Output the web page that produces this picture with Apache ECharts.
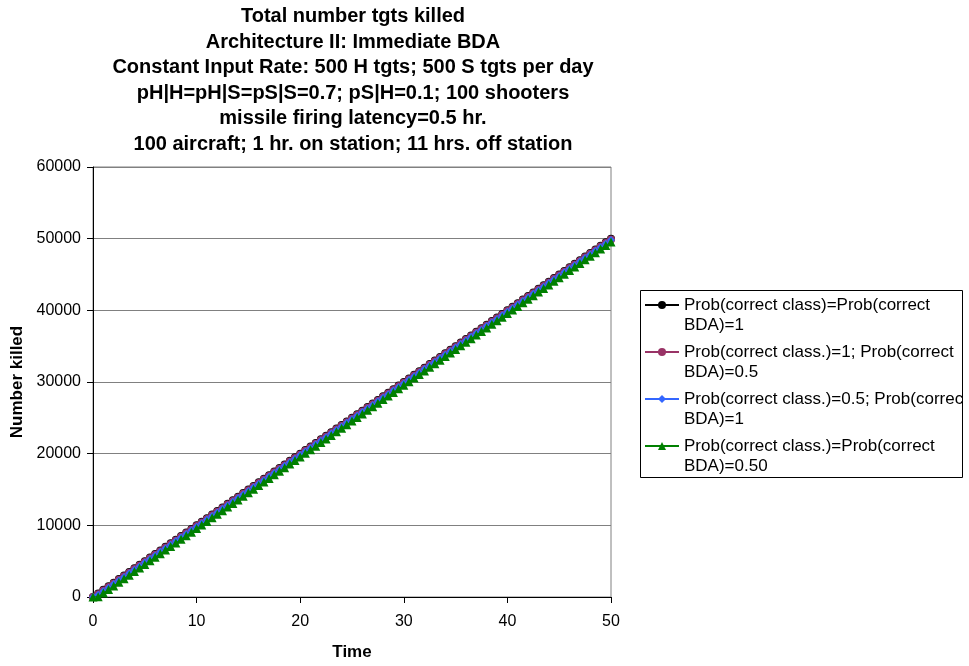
<!DOCTYPE html>
<html>
<head>
<meta charset="utf-8">
<script src="https://cdn.jsdelivr.net/npm/echarts@6/dist/echarts.min.js"></script>
<style>
html,body{margin:0;padding:0;background:#fff;}
#chart{width:969px;height:666px;}
</style>
</head>
<body>
<div id="chart"></div>
<script>
var titleLines = [
  'Total number tgts killed',
  'Architecture II: Immediate BDA',
  'Constant Input Rate: 500 H tgts; 500 S tgts per day',
  'pH|H=pH|S=pS|S=0.7; pS|H=0.1; 100 shooters',
  'missile firing latency=0.5 hr.',
  '100 aircraft; 1 hr. on station; 11 hrs. off station'
];
var xAxisTitle = 'Time';
var yAxisTitle = 'Number killed';
var seriesNames = [
  'Prob(correct class)=Prob(correct\nBDA)=1',
  'Prob(correct class.)=1; Prob(correct\nBDA)=0.5',
  'Prob(correct class.)=0.5; Prob(correct\nBDA)=1',
  'Prob(correct class.)=Prob(correct\nBDA)=0.50'
];
var times = [
  0,0.5,1,1.5,2,2.5,3,3.5,4,4.5,
  5,5.5,6,6.5,7,7.5,8,8.5,9,9.5,
  10,10.5,11,11.5,12,12.5,13,13.5,14,14.5,
  15,15.5,16,16.5,17,17.5,18,18.5,19,19.5,
  20,20.5,21,21.5,22,22.5,23,23.5,24,24.5,
  25,25.5,26,26.5,27,27.5,28,28.5,29,29.5,
  30,30.5,31,31.5,32,32.5,33,33.5,34,34.5,
  35,35.5,36,36.5,37,37.5,38,38.5,39,39.5,
  40,40.5,41,41.5,42,42.5,43,43.5,44,44.5,
  45,45.5,46,46.5,47,47.5,48,48.5,49,49.5,
  50
];
var killedP1B1 = [
  0,500,1000,1500,2000,2500,3000,3500,4000,4500,
  5000,5500,6000,6500,7000,7500,8000,8500,9000,9500,
  10000,10500,11000,11500,12000,12500,13000,13500,14000,14500,
  15000,15500,16000,16500,17000,17500,18000,18500,19000,19500,
  20000,20500,21000,21500,22000,22500,23000,23500,24000,24500,
  25000,25500,26000,26500,27000,27500,28000,28500,29000,29500,
  30000,30500,31000,31500,32000,32500,33000,33500,34000,34500,
  35000,35500,36000,36500,37000,37500,38000,38500,39000,39500,
  40000,40500,41000,41500,42000,42500,43000,43500,44000,44500,
  45000,45500,46000,46500,47000,47500,48000,48500,49000,49500,
  50000
];
var killedP1B05 = [
  0,400,900,1400,1900,2400,2900,3400,3900,4400,
  4900,5400,5900,6400,6900,7400,7900,8400,8900,9400,
  9900,10400,10900,11400,11900,12400,12900,13400,13900,14400,
  14900,15400,15900,16400,16900,17400,17900,18400,18900,19400,
  19900,20400,20900,21400,21900,22400,22900,23400,23900,24400,
  24900,25400,25900,26400,26900,27400,27900,28400,28900,29400,
  29900,30400,30900,31400,31900,32400,32900,33400,33900,34400,
  34900,35400,35900,36400,36900,37400,37900,38400,38900,39400,
  39900,40400,40900,41400,41900,42400,42900,43400,43900,44400,
  44900,45400,45900,46400,46900,47400,47900,48400,48900,49400,
  49900
];
var killedP05B1 = [
  0,300,800,1300,1800,2300,2800,3300,3800,4300,
  4800,5300,5800,6300,6800,7300,7800,8300,8800,9300,
  9800,10300,10800,11300,11800,12300,12800,13300,13800,14300,
  14800,15300,15800,16300,16800,17300,17800,18300,18800,19300,
  19800,20300,20800,21300,21800,22300,22800,23300,23800,24300,
  24800,25300,25800,26300,26800,27300,27800,28300,28800,29300,
  29800,30300,30800,31300,31800,32300,32800,33300,33800,34300,
  34800,35300,35800,36300,36800,37300,37800,38300,38800,39300,
  39800,40300,40800,41300,41800,42300,42800,43300,43800,44300,
  44800,45300,45800,46300,46800,47300,47800,48300,48800,49300,
  49800
];
var killedP05B05 = [
  0,50,550,1050,1550,2050,2550,3050,3550,4050,
  4550,5050,5550,6050,6550,7050,7550,8050,8550,9050,
  9550,10050,10550,11050,11550,12050,12550,13050,13550,14050,
  14550,15050,15550,16050,16550,17050,17550,18050,18550,19050,
  19550,20050,20550,21050,21550,22050,22550,23050,23550,24050,
  24550,25050,25550,26050,26550,27050,27550,28050,28550,29050,
  29550,30050,30550,31050,31550,32050,32550,33050,33550,34050,
  34550,35050,35550,36050,36550,37050,37550,38050,38550,39050,
  39550,40050,40550,41050,41550,42050,42550,43050,43550,44050,
  44550,45050,45550,46050,46550,47050,47550,48050,48550,49050,
  49550
];

function pairs(ys) {
  return times.map(function (t, i) { return [t, ys[i]]; });
}

var FONT = '"Liberation Sans", Arial, sans-serif';
var chart = echarts.init(document.getElementById('chart'), null, {renderer: 'canvas'});

var seriesDefs = [
  {data: killedP1B1, color: '#000000', symbol: 'circle', size: 8},
  {data: killedP1B05, color: '#993366', symbol: 'circle', size: 8},
  {data: killedP05B1, color: '#3366FF', symbol: 'diamond', size: 8},
  {data: killedP05B05, color: '#008000', symbol: 'triangle', size: 9}
];

chart.setOption({
  animation: false,
  backgroundColor: '#ffffff',
  title: {
    text: titleLines.join('\n'),
    left: 353,
    top: 4,
    padding: 0,
    textAlign: 'center',
    textStyle: {
      fontFamily: FONT, fontSize: 20, fontWeight: 'bold', color: '#000',
      lineHeight: 25.5
    }
  },
  grid: {
    left: 93, right: 358, top: 167, bottom: 64,
    show: true, borderColor: '#808080', borderWidth: 1,
    containLabel: false
  },
  legend: {
    orient: 'vertical',
    left: 644,
    top: 275,
    padding: 0,
    itemGap: -13,
    itemWidth: 34,
    itemHeight: 10,
    selectedMode: false,
    formatter: function (name) { return ' \n' + name; },
    textStyle: {
      fontFamily: FONT, fontSize: 17, color: '#000',
      lineHeight: 20
    },
    data: seriesNames
  },
  graphic: [{
    type: 'rect',
    shape: {x: 962, y: 290, width: 7, height: 190},
    style: {fill: '#ffffff', stroke: 'none'},
    z: 99
  }, {
    type: 'rect',
    shape: {x: 640.5, y: 290.5, width: 322, height: 187},
    style: {fill: 'none', stroke: '#000', lineWidth: 1},
    z: 100
  }],
  xAxis: {
    type: 'value',
    min: 0, max: 50, interval: 10,
    name: xAxisTitle,
    nameLocation: 'middle',
    nameGap: 47,
    nameTextStyle: {fontFamily: FONT, fontSize: 17, fontWeight: 'bold', color: '#000'},
    axisLine: {show: true, onZero: false, lineStyle: {color: '#000', width: 1}},
    axisTick: {show: true, inside: false, length: 6, lineStyle: {color: '#000'}},
    axisLabel: {fontFamily: FONT, fontSize: 16, color: '#000', margin: 17},
    splitLine: {show: false}
  },
  yAxis: {
    type: 'value',
    min: 0, max: 60000, interval: 10000,
    name: yAxisTitle,
    nameLocation: 'middle',
    nameGap: 60,
    nameRotate: 90,
    nameTextStyle: {fontFamily: FONT, fontSize: 17, fontWeight: 'bold', color: '#000'},
    axisLine: {show: true, lineStyle: {color: '#000', width: 1}},
    axisTick: {show: true, inside: false, length: 6, lineStyle: {color: '#000'}},
    axisLabel: {
      fontFamily: FONT, fontSize: 16, color: '#000', margin: 12,
      formatter: function (v) { return String(v); }
    },
    splitLine: {show: true, lineStyle: {color: '#808080', width: 1}}
  },
  series: seriesDefs.map(function (d, i) {
    return {
      name: seriesNames[i],
      type: 'line',
      data: pairs(d.data),
      symbol: d.symbol,
      symbolSize: d.size,
      showSymbol: true,
      showAllSymbol: true,
      color: d.color,
      lineStyle: {color: d.color, width: 1},
      itemStyle: {color: d.color, borderColor: d.color, borderWidth: 0},
      z: 2 + i
    };
  })
});
</script>
</body>
</html>
